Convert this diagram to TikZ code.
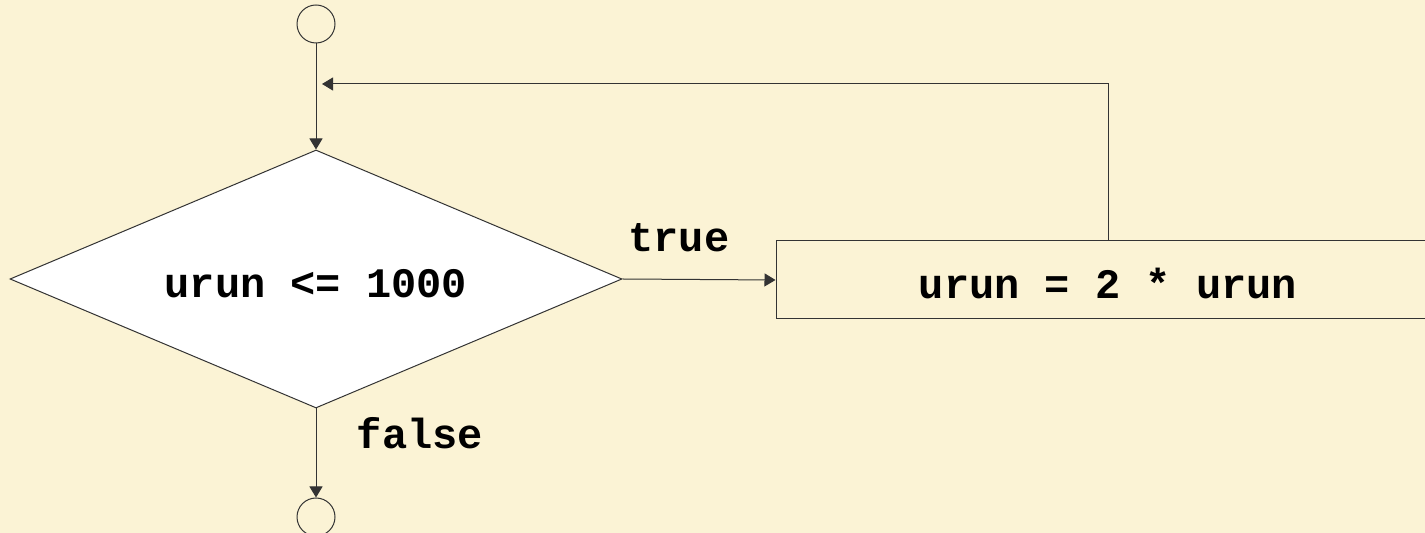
\documentclass[tikz,border=0pt]{standalone}
\usepackage{fontspec}
\setmonofont{Liberation Mono}
\usetikzlibrary{shapes.geometric,arrows.meta}
\definecolor{bgcol}{HTML}{FBF3D5}
\definecolor{linecol}{HTML}{333333}
\tikzset{
  flow/.style={draw=linecol, line width=0.5pt},
  arr/.style={flow, -{Triangle[length=5.5pt,width=6.5pt]}},
  term/.style={circle, flow, minimum size=19pt, inner sep=0pt},
  cond/.style={diamond, flow, fill=white, aspect=2.37, minimum width=306pt, minimum height=129pt, inner sep=0pt, text height=19pt, text depth=0pt},
  proc/.style={rectangle, flow, minimum width=332pt, minimum height=39pt, inner sep=0pt, text height=19pt, text depth=0pt},
  code/.style={font=\fontsize{21pt}{24pt}\selectfont\ttfamily\bfseries, text=black}
}
\begin{document}
\begin{tikzpicture}[x=0.5pt,y=-0.5pt]
\fill[bgcol] (0,0) rectangle (1425,533);
\clip (0,0) rectangle (1425,533);
\node[term] (start) at (316,24) {};
\node[cond, code] (test) at (316,279) {urun <= 1000};
\node[proc, code] (body) at (1108,280) {urun = 2 * urun};
\node[term] (stop) at (316,517) {};
\node[code] (lt) at (679,238) {true};
\node[code] (lf) at (420,433) {false};
\coordinate (back) at (322,84);
\draw[arr] (start) -- (test.north);
\draw[arr] (test.east) -- (body.west);
\draw[arr] (body.north) |- (back);
\draw[arr] (test.south) -- (stop);
\end{tikzpicture}
\end{document}
